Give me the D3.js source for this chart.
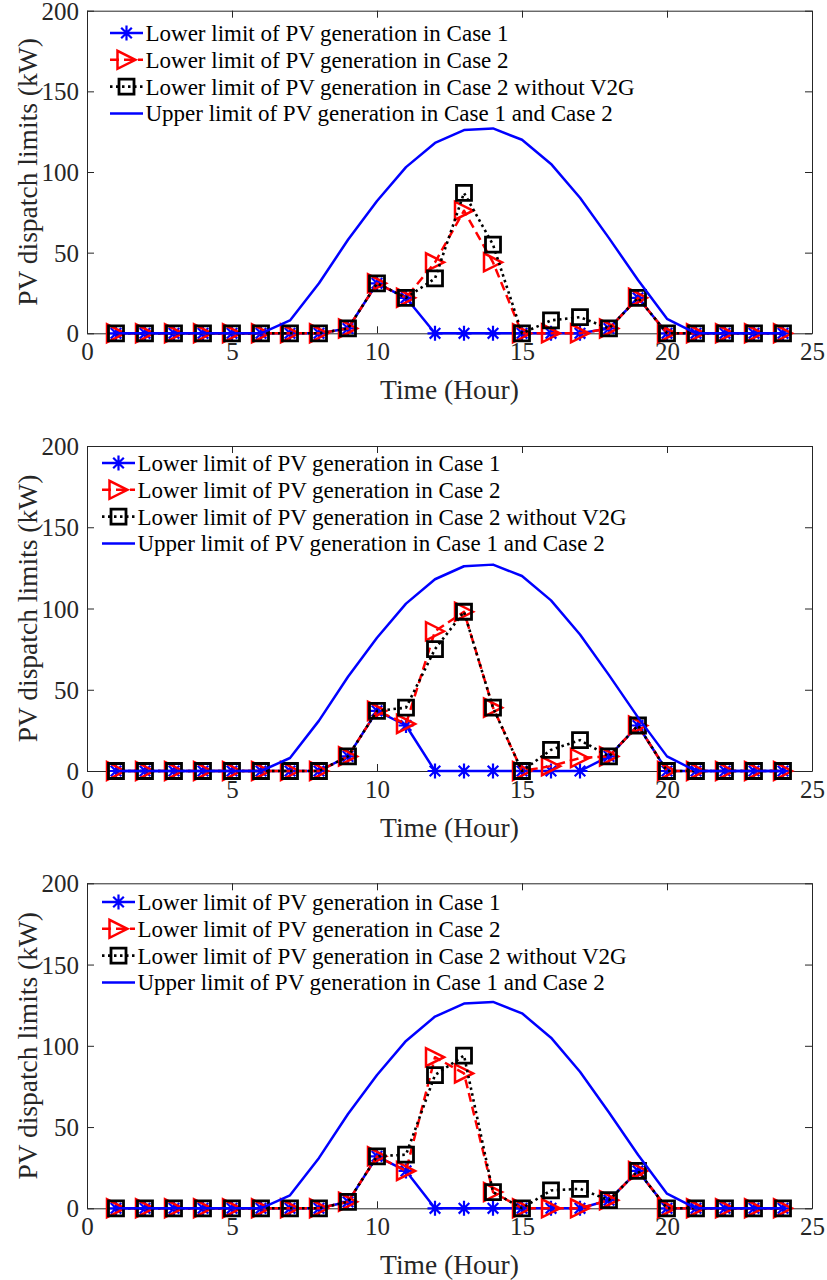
<!DOCTYPE html>
<html>
<head>
<meta charset="utf-8">
<script src="https://cdn.jsdelivr.net/npm/d3@7"></script>
<style>
  html, body { margin: 0; padding: 0; background: #fff; }
  svg { display: block; }
  text { font-family: "Liberation Serif", "Times New Roman", serif; }
</style>
</head>
<body>
<svg id="chart" width="827" height="1280"></svg>
<script>
// Hours of the day
const hours = [1, 2, 3, 4, 5, 6, 7, 8, 9, 10, 11, 12, 13, 14, 15, 16, 17, 18, 19, 20, 21, 22, 23, 24];

// Upper limit of PV generation (same in Case 1 and Case 2), kW
const upperLimit = [0, 0, 0, 0, 0, 0, 8, 31, 58, 82, 103, 118, 126, 127, 120, 105, 84, 59, 33, 9, 0, 0, 0, 0];

// Scenario A
const lowerCase1A = [0, 0, 0, 0, 0, 0, 0, 0, 3, 31, 22, 0, 0, 0, 0, 0, 0, 3, 22, 0, 0, 0, 0, 0];
const lowerCase2A = [0, 0, 0, 0, 0, 0, 0, 0, 3, 31, 22, 44, 76, 44, 0, 0, 0, 3, 22, 0, 0, 0, 0, 0];
const lowerNoV2GA = [0, 0, 0, 0, 0, 0, 0, 0, 3, 31, 22, 34, 87, 55, 0, 8, 10, 3, 22, 0, 0, 0, 0, 0];

// Scenario B
const lowerCase1B = [0, 0, 0, 0, 0, 0, 0, 0, 9, 37, 28, 0, 0, 0, 0, 0, 0, 9, 28, 0, 0, 0, 0, 0];
const lowerCase2B = [0, 0, 0, 0, 0, 0, 0, 0, 9, 37, 29, 86, 98, 39, 0, 3, 8, 9, 28, 0, 0, 0, 0, 0];
const lowerNoV2GB = [0, 0, 0, 0, 0, 0, 0, 0, 9, 37, 39, 75, 98, 39, 0, 13, 19, 9, 28, 0, 0, 0, 0, 0];

// Scenario C
const lowerCase1C = [0, 0, 0, 0, 0, 0, 0, 0, 4, 32, 23, 0, 0, 0, 0, 0, 0, 5, 23, 0, 0, 0, 0, 0];
const lowerCase2C = [0, 0, 0, 0, 0, 0, 0, 0, 4, 32, 23, 93, 83, 10, 0, 0, 0, 5, 23, 0, 0, 0, 0, 0];
const lowerNoV2GC = [0, 0, 0, 0, 0, 0, 0, 0, 4, 32, 33, 82, 94, 10, 0, 11, 12, 5, 23, 0, 0, 0, 0, 0];

const xTicks = [0, 5, 10, 15, 20, 25];
const yTicks = [0, 50, 100, 150, 200];
const xLabel = "Time (Hour)";
const yLabel = "PV dispatch limits (kW)";
const legendLabels = [
  "Lower limit of PV generation in Case 1",
  "Lower limit of PV generation in Case 2",
  "Lower limit of PV generation in Case 2 without V2G",
  "Upper limit of PV generation in Case 1 and Case 2"
];

const panels = [
  { top: 10.7, bottom: 333.3, legendTop: 33, legendX: 110, case1: lowerCase1A, case2: lowerCase2A, noV2G: lowerNoV2GA },
  { top: 446, bottom: 771, legendTop: 463, legendX: 102, case1: lowerCase1B, case2: lowerCase2B, noV2G: lowerNoV2GB },
  { top: 883.3, bottom: 1208.3, legendTop: 902, legendX: 102, case1: lowerCase1C, case2: lowerCase2C, noV2G: lowerNoV2GC }
];

const svg = d3.select("#chart");
const left = 87, right = 812;
const axisColor = "#262626";
const BLUE = "#0000ff", RED = "#ff0000", BLACK = "#000000";

// Marker shapes
function starPath(r) {
  const d = r * Math.SQRT1_2;
  return `M${-r},0L${r},0M0,${-r}L0,${r}M${-d},${-d}L${d},${d}M${-d},${d}L${d},${-d}`;
}
function triPath(s) {
  // right-pointing triangle centred at the origin
  const w = s / 2;
  return `M${w},0L${-w},${-w}L${-w},${w}Z`;
}
function squarePath(s) {
  const h = s / 2;
  return `M${-h},${-h}H${h}V${h}H${-h}Z`;
}

const styles = {
  case1: { color: BLUE, dash: null, width: 2.5, marker: starPath(7.5), mw: 2.2, fill: "none" },
  case2: { color: RED, dash: "9,5", width: 2.5, marker: triPath(18), mw: 2.5, fill: "none" },
  noV2G: { color: BLACK, dash: "2.5,3.5", width: 2.6, marker: squarePath(15), mw: 2.8, fill: "none" },
  upper: { color: BLUE, dash: null, width: 2.5, marker: null }
};

panels.forEach(p => {
  const x = d3.scaleLinear().domain([0, 25]).range([left, right]);
  const y = d3.scaleLinear().domain([0, 200]).range([p.bottom, p.top]);
  const g = svg.append("g");

  // axes box with ticks pointing inward on all four sides
  const tickLen = 7;
  g.append("g").attr("transform", `translate(0,${p.bottom})`)
    .call(d3.axisBottom(x).tickValues(xTicks).tickSizeInner(-tickLen).tickSizeOuter(0).tickPadding(10))
    .call(a => {
      a.select(".domain").attr("stroke", axisColor).attr("stroke-width", 1);
      a.selectAll(".tick line").attr("stroke", axisColor);
      a.selectAll(".tick text").attr("font-size", 25).attr("fill", axisColor)
        .attr("font-family", "Liberation Serif").attr("dy", "0.75em").attr("y", 8);
    });
  g.append("g").attr("transform", `translate(0,${p.top})`)
    .call(d3.axisTop(x).tickValues(xTicks).tickSizeInner(-tickLen).tickSizeOuter(0).tickFormat(""))
    .call(a => {
      a.select(".domain").attr("stroke", axisColor).attr("stroke-width", 1);
      a.selectAll(".tick line").attr("stroke", axisColor);
    });
  g.append("g").attr("transform", `translate(${left},0)`)
    .call(d3.axisLeft(y).tickValues(yTicks).tickSizeInner(-tickLen).tickSizeOuter(0).tickPadding(8))
    .call(a => {
      a.select(".domain").attr("stroke", axisColor).attr("stroke-width", 1);
      a.selectAll(".tick line").attr("stroke", axisColor);
      a.selectAll(".tick text").attr("font-size", 25).attr("fill", axisColor)
        .attr("font-family", "Liberation Serif").attr("dy", "0.34em");
    });
  g.append("g").attr("transform", `translate(${right},0)`)
    .call(d3.axisRight(y).tickValues(yTicks).tickSizeInner(-tickLen).tickSizeOuter(0).tickFormat(""))
    .call(a => {
      a.select(".domain").attr("stroke", axisColor).attr("stroke-width", 1);
      a.selectAll(".tick line").attr("stroke", axisColor);
    });

  // axis titles
  g.append("text")
    .attr("x", (left + right) / 2).attr("y", p.bottom + 66)
    .attr("text-anchor", "middle").attr("font-size", 27.5).attr("fill", axisColor)
    .text(xLabel);
  g.append("text")
    .attr("transform", `translate(37,${(p.top + p.bottom) / 2}) rotate(-90)`)
    .attr("text-anchor", "middle").attr("font-size", 27.5).attr("fill", axisColor)
    .text(yLabel);

  const line = d3.line().x((d, i) => x(hours[i])).y(d => y(d));

  function drawSeries(values, st) {
    g.append("path").datum(values)
      .attr("d", line).attr("fill", "none")
      .attr("stroke", st.color).attr("stroke-width", st.width)
      .attr("stroke-dasharray", st.dash).attr("stroke-linejoin", "round");
    if (st.marker) {
      g.append("g").selectAll("path").data(values).join("path")
        .attr("transform", (d, i) => `translate(${x(hours[i])},${y(d)})`)
        .attr("d", st.marker).attr("fill", st.fill)
        .attr("stroke", st.color).attr("stroke-width", st.mw)
        .attr("stroke-linejoin", "miter");
    }
  }

  drawSeries(p.case1, styles.case1);
  drawSeries(p.case2, styles.case2);
  drawSeries(p.noV2G, styles.noV2G);
  drawSeries(upperLimit, styles.upper);

  // legend
  const legendStyles = [styles.case1, styles.case2, styles.noV2G, styles.upper];
  const rowH = 26.8;
  legendStyles.forEach((st, i) => {
    const ly = p.legendTop + i * rowH;
    const lx0 = p.legendX, lx1 = p.legendX + 33;
    const lg = g.append("g");
    lg.append("line").attr("x1", lx0).attr("x2", lx1).attr("y1", ly).attr("y2", ly)
      .attr("stroke", st.color).attr("stroke-width", st.width)
      .attr("stroke-dasharray", st.dash);
    if (st.marker) {
      lg.append("path").attr("transform", `translate(${(lx0 + lx1) / 2},${ly})`)
        .attr("d", st.marker).attr("fill", "none")
        .attr("stroke", st.color).attr("stroke-width", st.mw);
    }
    lg.append("text").attr("x", lx1 + 2.5).attr("y", ly + 8)
      .attr("font-size", 23).attr("fill", "#000").text(legendLabels[i]);
  });
});
</script>
</body>
</html>
